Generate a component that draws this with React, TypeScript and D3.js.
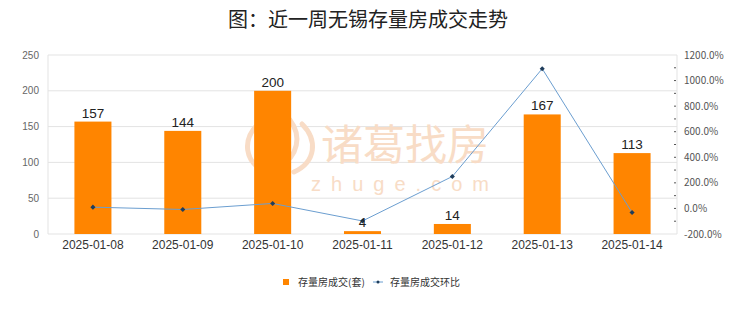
import React from "react";
import * as d3 from "d3";

const dates = ["2025-01-08", "2025-01-09", "2025-01-10", "2025-01-11", "2025-01-12", "2025-01-13", "2025-01-14"];
const volumes = [157, 144, 200, 4, 14, 167, 113];
const ratios = [10, -8.3, 38.9, -98, 250, 1092.9, -32.3];
const leftTicks = [0, 50, 100, 150, 200, 250];
const rightTicks = [-200, 0, 200, 400, 600, 800, 1000, 1200];
const minorTicks = [-100, 0, 100, 200, 300, 400, 500, 600, 700, 800, 900, 1000, 1100];
const title = "图：近一周无锡存量房成交走势";
const legendBar = "存量房成交(套)";
const legendLine = "存量房成交环比";

const W = 740, H = 312;
const L = 48, R = 677, T = 55, B = 234;

export default function App() {
  const x = d3.scaleBand<string>().domain(dates).range([L, R]).paddingInner(0.588).paddingOuter(0.294);
  const yL = d3.scaleLinear().domain([0, 250]).range([B, T]);
  const yR = d3.scaleLinear().domain([-200, 1200]).range([B, T]);
  const cx = (d: string) => (x(d) as number) + x.bandwidth() / 2;
  const line = d3.line<number>().x((_, i) => cx(dates[i])).y((v) => yR(v));
  const fmt = (v: number) => v.toFixed(1) + "%";
  const cjk = "'Noto Sans CJK SC', 'Noto Sans', sans-serif";
  const sans = "'Liberation Sans', Arial, sans-serif";

  return (
    <svg width={W} height={H} style={{ position: "absolute", left: 0, top: 0, background: "#fff" }}>
      <rect x={0} y={0} width={W} height={H} fill="#fff" />
      <text x={368} y={27} textAnchor="middle" fontFamily={cjk} fontSize={20} fontWeight={400} fill="#222">{title}</text>

      {/* gridlines */}
      {leftTicks.map((t) => (
        <line key={t} x1={L} x2={R} y1={yL(t)} y2={yL(t)} stroke="#e3e3e3" strokeWidth={1} />
      ))}
      <line x1={L} x2={L} y1={T} y2={B} stroke="#e3e3e3" />
      <line x1={R} x2={R} y1={T} y2={B} stroke="#e3e3e3" />

      {/* watermark */}
      <g>
        <g fill="none" stroke="#f8dcc6" strokeWidth={5} strokeLinecap="round">
          <path d="M258,124 C242,140 244,162 266,172" />
          <path d="M302,124 C318,140 316,162 294,172" />
          <path d="M270,120 C258,136 262,156 280,166" />
          <path d="M290,120 C302,136 298,156 280,166" />
          <path d="M280,130 L280,160" />
        </g>
        <text x={405} y={160} textAnchor="middle" fontFamily={cjk} fontSize={42} fill="#f8dcc6">诸葛找房</text>
        <text x={405} y={191} textAnchor="middle" fontFamily={sans} fontSize={20} letterSpacing={10} fill="#f8dcc6">zhuge.com</text>
      </g>

      {/* bars */}
      {volumes.map((v, i) => (
        <rect key={dates[i]} x={x(dates[i])} y={yL(v)} width={x.bandwidth()} height={B - yL(v)} fill="#ff8500" />
      ))}

      {/* line */}
      <path d={line(ratios) || ""} fill="none" stroke="#6b9ed0" strokeWidth={1} />
      {ratios.map((v, i) => (
        <rect key={"m" + i} x={cx(dates[i]) - 1.8} y={yR(v) - 1.8} width={3.6} height={3.6} fill="#1f3d5c"
          transform={`rotate(45 ${cx(dates[i])} ${yR(v)})`} />
      ))}

      {/* bar labels */}
      {volumes.map((v, i) => (
        <text key={"l" + i} x={cx(dates[i])} y={yL(v) - 4} textAnchor="middle" fontFamily={sans} fontSize={13.5} fill="#222">{v}</text>
      ))}

      {/* left axis */}
      {leftTicks.map((t) => (
        <text key={"lt" + t} x={39} y={yL(t) + 3.5} textAnchor="end" fontFamily={sans} fontSize={10} fill="#666">{t}</text>
      ))}
      {/* right axis */}
      {minorTicks.map((t) => (
        <line key={"mt" + t} x1={R - 3} x2={R - 1} y1={yR(t)} y2={yR(t)} stroke="#555" />
      ))}
      {rightTicks.map((t) => (
        <text key={"rt" + t} x={684} y={yR(t) + 3.5} fontFamily={cjk} fontSize={10} fill="#555">{fmt(t)}</text>
      ))}

      {/* x labels */}
      {dates.map((d) => (
        <text key={"x" + d} x={cx(d)} y={249} textAnchor="middle" fontFamily={sans} fontSize={12} fill="#333">{d}</text>
      ))}

      {/* legend */}
      <rect x={283} y={279} width={6} height={6} fill="#ff8500" />
      <text x={298} y={285.5} fontFamily={cjk} fontSize={10} fill="#333">{legendBar}</text>
      <line x1={373} x2={383} y1={282} y2={282} stroke="#6b9ed0" />
      <circle cx={378} cy={282} r={1.5} fill="#1f3d5c" />
      <text x={390} y={285.5} fontFamily={cjk} fontSize={10} fill="#333">{legendLine}</text>
    </svg>
  );
}
